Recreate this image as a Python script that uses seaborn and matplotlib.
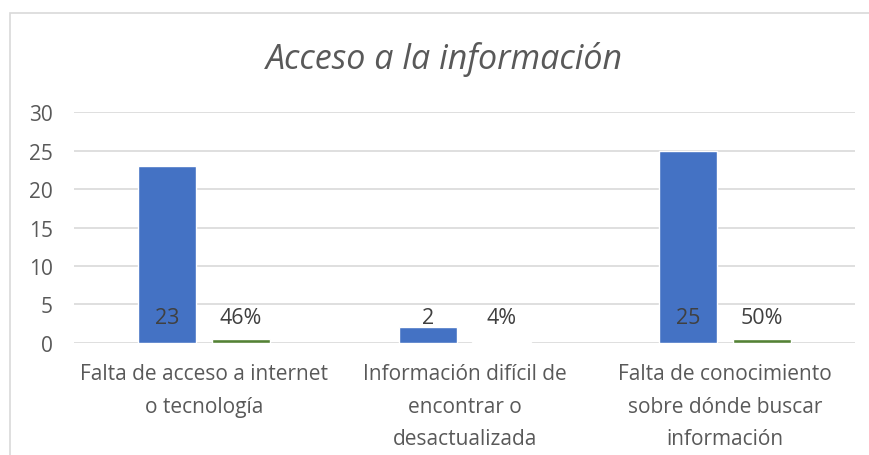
import matplotlib
matplotlib.use("Agg")
import matplotlib.pyplot as plt
import seaborn as sns
import pandas as pd
from matplotlib.patches import Rectangle

categories = ["Falta de acceso a internet\no tecnología",
              "Información difícil de\nencontrar o\ndesactualizada",
              "Falta de conocimiento\nsobre dónde buscar\ninformación"]
counts = [23, 2, 25]
percents = [0.46, 0.04, 0.50]
count_labels = ["23", "2", "25"]
pct_labels = ["46%", "4%", "50%"]
series = ["Cantidad", "Porcentaje"]
title = "Acceso a la información"
yticks = [0, 5, 10, 15, 20, 25, 30]

sns.set_theme(style="white")
plt.rcParams["font.family"] = ["Open Sans", "DejaVu Sans"]

df = pd.DataFrame({
    "cat": categories * 2,
    "val": counts + percents,
    "serie": [series[0]] * 3 + [series[1]] * 3,
})

fig = plt.figure(figsize=(8.7, 4.56), dpi=100)
ax = fig.add_axes([0.085, 0.2467, 0.898, 0.5044])

sns.barplot(data=df, x="cat", y="val", hue="serie", order=categories,
            hue_order=series, palette=["#4472C4", "#548235"],
            width=0.567, gap=0.21, ax=ax, legend=False, saturation=1)

ax.set_ylim(0, 30)
ax.set_yticks(yticks)
ax.set_xlim(-0.5, 2.5)
ax.yaxis.grid(True, color="#d9d9d9", linewidth=1.2)
ax.set_axisbelow(True)
for s in ax.spines.values():
    s.set_visible(False)
ax.tick_params(axis="both", length=0, colors="#595959", labelsize=15)
ax.tick_params(axis="y", pad=15)
ax.tick_params(axis="x", pad=15)
for lbl in ax.get_xticklabels():
    lbl.set_linespacing(1.7)
ax.set_xlabel("")
ax.set_ylabel("")

# data labels
containers = ax.containers
for cont, labs in zip(containers, [count_labels, pct_labels]):
    for bar, lab in zip(cont, labs):
        cx = bar.get_x() + bar.get_width() / 2
        ax.text(cx, 3.3, lab, ha="center", va="center", fontsize=15.5,
                color="#404040")

fig.text(0.511, 0.87, title, ha="center", va="center", fontsize=24.5,
         style="italic", color="#595959")

fig.patches.append(Rectangle((10 / 870, -0.1), 1.2, 1 - 14 / 456 + 0.1,
                             transform=fig.transFigure, fill=False,
                             edgecolor="#d9d9d9", linewidth=1.2))

fig.savefig("out.png", dpi=100)
